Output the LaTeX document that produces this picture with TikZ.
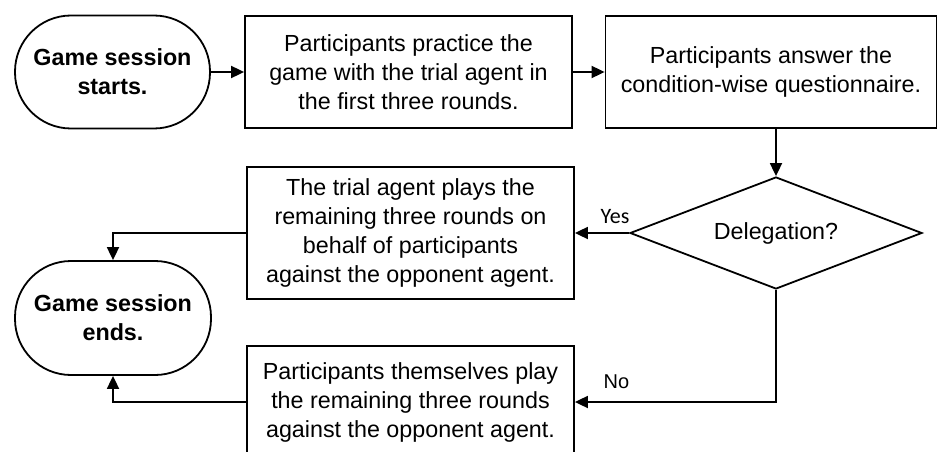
\documentclass[tikz,border=0pt]{standalone}
\usepackage{fontspec}
\setmainfont{Liberation Sans}
\newfontfamily\labfont{Carlito}
\usetikzlibrary{arrows.meta,shapes.geometric}
\begin{document}
\begin{tikzpicture}[x=1pt,y=-1pt,
  every node/.style={font=\fontsize{23.3}{29}\selectfont, align=center},
  box/.style={draw, line width=1.8pt, inner sep=0pt, minimum width=327pt, minimum height=112pt},
  term/.style={draw, line width=1.8pt, rounded corners=56pt, inner sep=0pt, minimum width=195pt, minimum height=113pt, font=\fontsize{23.3}{29}\selectfont\bfseries},
  dec/.style={draw, diamond, line width=1.8pt, inner sep=0pt, aspect=2.6, minimum width=292pt, minimum height=112pt},
  arr/.style={line width=1.8pt, -{Triangle[length=13pt,width=12pt]}},
  lab/.style={inner sep=0pt, anchor=base}
]
\useasboundingbox (0,0) rectangle (938,452);
\node[term] (start) at (112.5,72) {Game session\\starts.};
\node[box] (box1) at (408.5,72) {Participants practice the\\game with the trial agent in\\the first three rounds.};
\node[box, minimum width=331pt] (box2) at (771,72) {Participants answer the\\condition-wise questionnaire.};
\node[dec] (dia) at (776,233) {Delegation?};
\node[box, minimum height=132pt] (trial) at (410.5,233) {The trial agent plays the\\remaining three rounds on\\behalf of participants\\against the opponent agent.};
\node[term, minimum width=196pt, minimum height=114pt] (end) at (113,318) {Game session\\ends.};
\node[box] (bottom) at (410.5,402) {Participants themselves play\\the remaining three rounds\\against the opponent agent.};
\draw[arr] (start) -- (box1);
\draw[arr] (box1) -- (box2);
\draw[arr] (box2.south -| dia.north) -- (dia.north);
\draw[arr] (dia.west) -- (trial.east);
\node[lab, font=\labfont\fontsize{22}{26}\selectfont] (yes) at (615,223) {Yes};
\draw[arr] (dia.south) |- (bottom.east);
\node[lab, font=\fontsize{20}{24}\selectfont] (no) at (616.5,388) {No};
\draw[arr] (trial.west) -| (end.north);
\draw[arr] (bottom.west) -| (end.south);
\end{tikzpicture}
\end{document}
